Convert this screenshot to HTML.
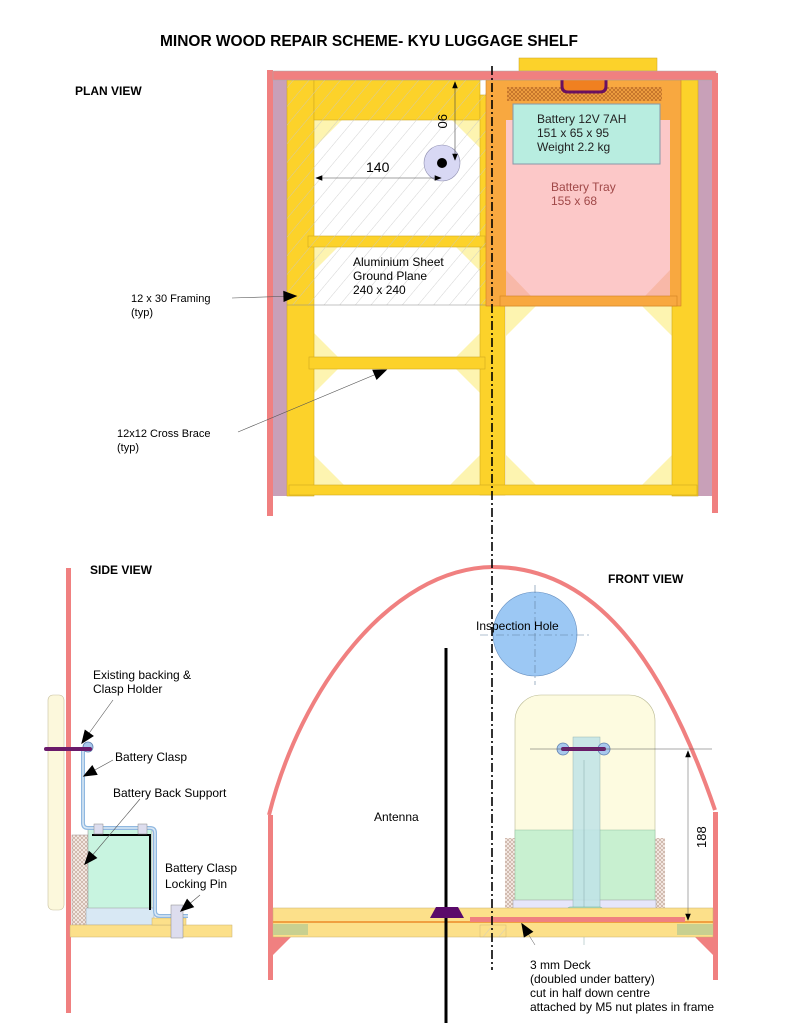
<!DOCTYPE html>
<html><head><meta charset="utf-8"><style>
html,body{margin:0;padding:0;background:#fff;}
svg{display:block;font-family:"Liberation Sans",Arial,sans-serif;}
</style></head><body>
<svg width="791" height="1023" viewBox="0 0 791 1023" xmlns="http://www.w3.org/2000/svg">
<defs>
<pattern id="hatch" width="12" height="12" patternUnits="userSpaceOnUse" patternTransform="rotate(40)">
<line x1="0" y1="0" x2="0" y2="12" stroke="#c8c8c8" stroke-width="0.8"/>
</pattern>
<pattern id="xh" width="4" height="4" patternUnits="userSpaceOnUse">
<rect width="4" height="4" fill="#f2e6e0"/><path d="M0,0L4,4M4,0L0,4" stroke="#b09080" stroke-width="0.5"/>
</pattern>
<pattern id="oh" width="4" height="4" patternUnits="userSpaceOnUse">
<rect width="4" height="4" fill="#f0a040"/><path d="M0,0L4,4M4,0L0,4" stroke="#b06020" stroke-width="0.6"/>
</pattern>
<marker id="ar" viewBox="0 0 10 10" refX="9" refY="5" markerWidth="10" markerHeight="7" markerUnits="userSpaceOnUse" orient="auto-start-reverse"><path d="M0,1L10,5L0,9z" fill="#000"/></marker>
<marker id="ab" viewBox="0 0 10 10" refX="9" refY="5" markerWidth="16" markerHeight="14" markerUnits="userSpaceOnUse" orient="auto"><path d="M0,1L10,5L0,9z" fill="#000"/></marker>
</defs>

<text x="160" y="46" font-size="15.5" font-weight="bold" textLength="418" lengthAdjust="spacingAndGlyphs">MINOR WOOD REPAIR SCHEME- KYU LUGGAGE SHELF</text>

<!-- PLAN VIEW -->
<text x="75" y="95" font-size="12" font-weight="bold">PLAN VIEW</text>
<rect x="519" y="58" width="138" height="13" fill="#fcd22a" stroke="#c8a020" stroke-width="0.5"/>
<rect x="273" y="80" width="14" height="416" fill="#c8a0b8"/>
<rect x="698" y="80" width="14" height="416" fill="#c8a0b8"/>
<rect x="314" y="120" width="166" height="365" fill="#fff"/>
<rect x="506" y="305" width="166" height="180" fill="#fff"/>
<g fill="#fdf4b0">
<path d="M314,120h28l-28,28z"/><path d="M480,120h-28l28,28z"/>
<path d="M314,247h24l-24,24z"/><path d="M480,247h-24l24,24z"/>
<path d="M314,357h24l-24,-24z"/><path d="M480,357h-24l24,-24z"/>
<path d="M314,369h24l-24,24z"/><path d="M480,369h-24l24,24z"/>
<path d="M314,485h30l-30,-30z"/><path d="M480,485h-30l30,-30z"/>
<path d="M506,306h30l-30,30z"/><path d="M672,306h-30l30,30z"/>
<path d="M506,485h30l-30,-30z"/><path d="M672,485h-30l30,-30z"/>
</g>
<g fill="#fcd22a" stroke="#d0a820" stroke-width="0.6">
<rect x="287" y="80" width="27" height="416"/>
<rect x="314" y="80" width="166" height="40"/>
<rect x="480" y="95" width="25" height="400"/>
<rect x="672" y="80" width="26" height="416"/>
<rect x="289" y="485" width="408" height="10"/>
<rect x="308" y="236" width="177" height="11"/>
<rect x="309" y="357" width="176" height="12"/>
</g>
<rect x="287" y="80" width="200" height="225" fill="url(#hatch)"/>
<line x1="287" y1="305" x2="492" y2="305" stroke="#888" stroke-width="0.6"/>
<rect x="486" y="80" width="195" height="226" fill="#f8a840" stroke="#d08020" stroke-width="0.6"/>
<rect x="506" y="120" width="164" height="176" fill="#fcc8c8"/>
<path d="M506,270l25,26h-25z M670,270l-25,26h25z" fill="#f8b8a8"/>
<rect x="500" y="296" width="177" height="10" fill="#f8a840" stroke="#d08020" stroke-width="0.6"/>
<rect x="507" y="87" width="155" height="14" fill="url(#oh)"/>
<path d="M562,80v6q0,6 6,6h32q6,0 6,-6v-6" fill="#f08020" stroke="#6a1060" stroke-width="3"/>
<rect x="513" y="104" width="147" height="60" fill="#b8ede0" stroke="#8898a8" stroke-width="1"/>
<text font-size="12" fill="#222"><tspan x="537" y="123">Battery 12V 7AH</tspan><tspan x="537" y="137">151 x 65 x 95</tspan><tspan x="537" y="151">Weight 2.2 kg</tspan></text>
<text font-size="12" fill="#a04848"><tspan x="551" y="191">Battery Tray</tspan><tspan x="551" y="205">155 x 68</tspan></text>
<rect x="267" y="70" width="6" height="446" fill="#f08080"/>
<rect x="273" y="71" width="443" height="9" fill="#f08080" stroke="#aaa" stroke-width="0.5"/>
<rect x="712" y="73" width="6" height="440" fill="#f08080"/>
<circle cx="442" cy="163" r="18" fill="#d8d8f4" stroke="#9090b0" stroke-width="0.6"/>
<circle cx="442" cy="163" r="5" fill="#000"/>
<line x1="455" y1="82" x2="455" y2="160" stroke="#444" stroke-width="0.6" marker-start="url(#ar)" marker-end="url(#ar)"/>
<line x1="316" y1="178" x2="441" y2="178" stroke="#444" stroke-width="0.6" marker-start="url(#ar)" marker-end="url(#ar)"/>
<text x="366" y="172" font-size="14">140</text>
<text transform="translate(438,114) rotate(90)" font-size="13">90</text>
<text font-size="12"><tspan x="353" y="266">Aluminium Sheet</tspan><tspan x="353" y="280">Ground Plane</tspan><tspan x="353" y="294">240 x 240</tspan></text>
<text font-size="11"><tspan x="131" y="302">12 x 30 Framing</tspan><tspan x="131" y="316">(typ)</tspan></text>
<line x1="232" y1="298" x2="296" y2="296" stroke="#555" stroke-width="0.6" marker-end="url(#ab)"/>
<text font-size="11"><tspan x="117" y="437">12x12 Cross Brace</tspan><tspan x="117" y="451">(typ)</tspan></text>
<line x1="238" y1="432" x2="386" y2="370" stroke="#555" stroke-width="0.6" marker-end="url(#ab)"/>

<!-- SIDE VIEW -->
<text x="90" y="574" font-size="12" font-weight="bold">SIDE VIEW</text>
<rect x="48" y="695" width="16" height="215" rx="5" fill="#fcf8dc" stroke="#c8c0a0" stroke-width="0.6"/>
<rect x="66" y="568" width="5" height="445" fill="#f08080"/>
<rect x="72" y="835" width="16" height="90" fill="url(#xh)" stroke="#a09090" stroke-width="0.5"/>
<rect x="88" y="828" width="64" height="84" fill="#c8f4e0" stroke="#888" stroke-width="0.5"/>
<rect x="86" y="908" width="68" height="17" fill="#d8e8f4" stroke="#999" stroke-width="0.5"/>
<rect x="70" y="925" width="162" height="12" fill="#fce08a" stroke="#c8b070" stroke-width="0.5"/>
<rect x="152" y="918" width="34" height="7" fill="#fce08a" stroke="#c8b070" stroke-width="0.5"/>
<path d="M92,835h58v75" fill="none" stroke="#000" stroke-width="2"/>
<path d="M83,748v75q0,5 5,5h62q5,0 5,5v78q0,5 5,5h28" fill="none" stroke="#90b8e0" stroke-width="4"/>
<path d="M83,748v75q0,5 5,5h62q5,0 5,5v78q0,5 5,5h28" fill="none" stroke="#dbe9f6" stroke-width="1.5"/>
<rect x="94" y="824" width="9" height="10" fill="#dde" stroke="#888" stroke-width="0.5"/>
<rect x="138" y="824" width="9" height="10" fill="#dde" stroke="#888" stroke-width="0.5"/>
<rect x="171" y="905" width="12" height="33" fill="#dde" stroke="#888" stroke-width="0.5"/>
<circle cx="88" cy="747" r="5" fill="#a8c8ec" stroke="#6080b0" stroke-width="0.8"/>
<line x1="46" y1="749" x2="90" y2="749" stroke="#6a1a6a" stroke-width="4" stroke-linecap="round"/>
<text font-size="12"><tspan x="93" y="679">Existing backing &amp;</tspan><tspan x="93" y="693">Clasp Holder</tspan></text>
<line x1="113" y1="700" x2="82" y2="743" stroke="#555" stroke-width="0.6" marker-end="url(#ab)"/>
<text x="115" y="761" font-size="12">Battery Clasp</text>
<line x1="113" y1="760" x2="84" y2="776" stroke="#555" stroke-width="0.6" marker-end="url(#ab)"/>
<text x="113" y="797" font-size="12">Battery Back Support</text>
<line x1="140" y1="799" x2="85" y2="864" stroke="#555" stroke-width="0.6" marker-end="url(#ab)"/>
<text font-size="12"><tspan x="165" y="872">Battery Clasp</tspan><tspan x="165" y="888">Locking Pin</tspan></text>
<line x1="200" y1="895" x2="181" y2="911" stroke="#555" stroke-width="0.6" marker-end="url(#ab)"/>

<!-- FRONT VIEW -->
<text x="608" y="583" font-size="12" font-weight="bold">FRONT VIEW</text>
<path d="M269,815 C300,690 390,568 493,567 C590,567 660,650 715,810" fill="none" stroke="#f08080" stroke-width="4"/>
<rect x="268" y="815" width="5" height="165" fill="#f08080"/>
<rect x="713" y="812" width="5" height="168" fill="#f08080"/>
<path d="M273,935h20l-20,20z M713,935h-20l20,20z" fill="#f08080"/>
<circle cx="535" cy="634" r="42" fill="#9cc8f4" stroke="#6890c0" stroke-width="0.6"/>
<line x1="535" y1="585" x2="535" y2="685" stroke="#6080a0" stroke-width="0.6" stroke-dasharray="8,3,2,3"/>
<line x1="480" y1="635" x2="590" y2="635" stroke="#6080a0" stroke-width="0.6" stroke-dasharray="8,3,2,3"/>
<text x="476" y="630" font-size="12">Inspection Hole</text>
<rect x="515" y="695" width="140" height="215" rx="26" fill="#fdfbe0" stroke="#b8b890" stroke-width="0.6"/>
<rect x="505" y="838" width="10" height="72" fill="url(#xh)"/>
<rect x="655" y="838" width="10" height="72" fill="url(#xh)"/>
<rect x="515" y="830" width="140" height="75" fill="#c8f0d0" stroke="#90c0a0" stroke-width="0.5"/>
<rect x="513" y="900" width="143" height="17" fill="#e6e6fa" stroke="#999" stroke-width="0.5"/>
<rect x="573" y="737" width="27" height="178" fill="#c0e4e8" stroke="#8aa" stroke-width="0.5" opacity="0.85"/>
<line x1="584" y1="760" x2="584" y2="945" stroke="#8aa" stroke-width="0.5"/>
<rect x="567" y="907" width="36" height="8" rx="3" fill="#a8f0d0" stroke="#6a9" stroke-width="0.5"/>
<rect x="273" y="908" width="440" height="29" fill="#fce08a" stroke="#c8b070" stroke-width="0.5"/>
<line x1="273" y1="922" x2="713" y2="922" stroke="#f0a040" stroke-width="2"/>
<rect x="273" y="924" width="35" height="11" fill="#c8d090"/>
<rect x="677" y="924" width="36" height="11" fill="#c8d090"/>
<rect x="480" y="925" width="26" height="12" fill="url(#hatch)" stroke="#c8b070" stroke-width="0.4"/>
<rect x="470" y="917" width="215" height="5" fill="#f08080"/>
<line x1="446" y1="648" x2="446" y2="1023" stroke="#000" stroke-width="3"/>
<path d="M430,918h34l-6,-11h-22z" fill="#5a0a6a"/>
<circle cx="563" cy="749" r="6" fill="#a8c8ec" stroke="#6080b0" stroke-width="0.8"/>
<circle cx="604" cy="749" r="6" fill="#a8c8ec" stroke="#6080b0" stroke-width="0.8"/>
<line x1="563" y1="749" x2="604" y2="749" stroke="#6a1a6a" stroke-width="4" stroke-linecap="round"/>
<line x1="530" y1="749" x2="712" y2="749" stroke="#555" stroke-width="0.5"/>
<line x1="688" y1="751" x2="688" y2="920" stroke="#555" stroke-width="0.5" marker-start="url(#ar)" marker-end="url(#ar)"/>
<text transform="translate(706,848) rotate(-90)" font-size="13">188</text>
<text x="374" y="821" font-size="12">Antenna</text>
<line x1="535" y1="945" x2="522" y2="924" stroke="#555" stroke-width="0.5" marker-end="url(#ab)"/>
<text font-size="12"><tspan x="530" y="969">3 mm Deck</tspan><tspan x="530" y="983">(doubled under battery)</tspan><tspan x="530" y="997">cut in half down centre</tspan><tspan x="530" y="1011">attached by M5 nut plates in frame</tspan></text>

<line x1="492" y1="66" x2="492" y2="970" stroke="#000" stroke-width="1.6" stroke-dasharray="9,3,2,3"/>
</svg>
</body></html>
